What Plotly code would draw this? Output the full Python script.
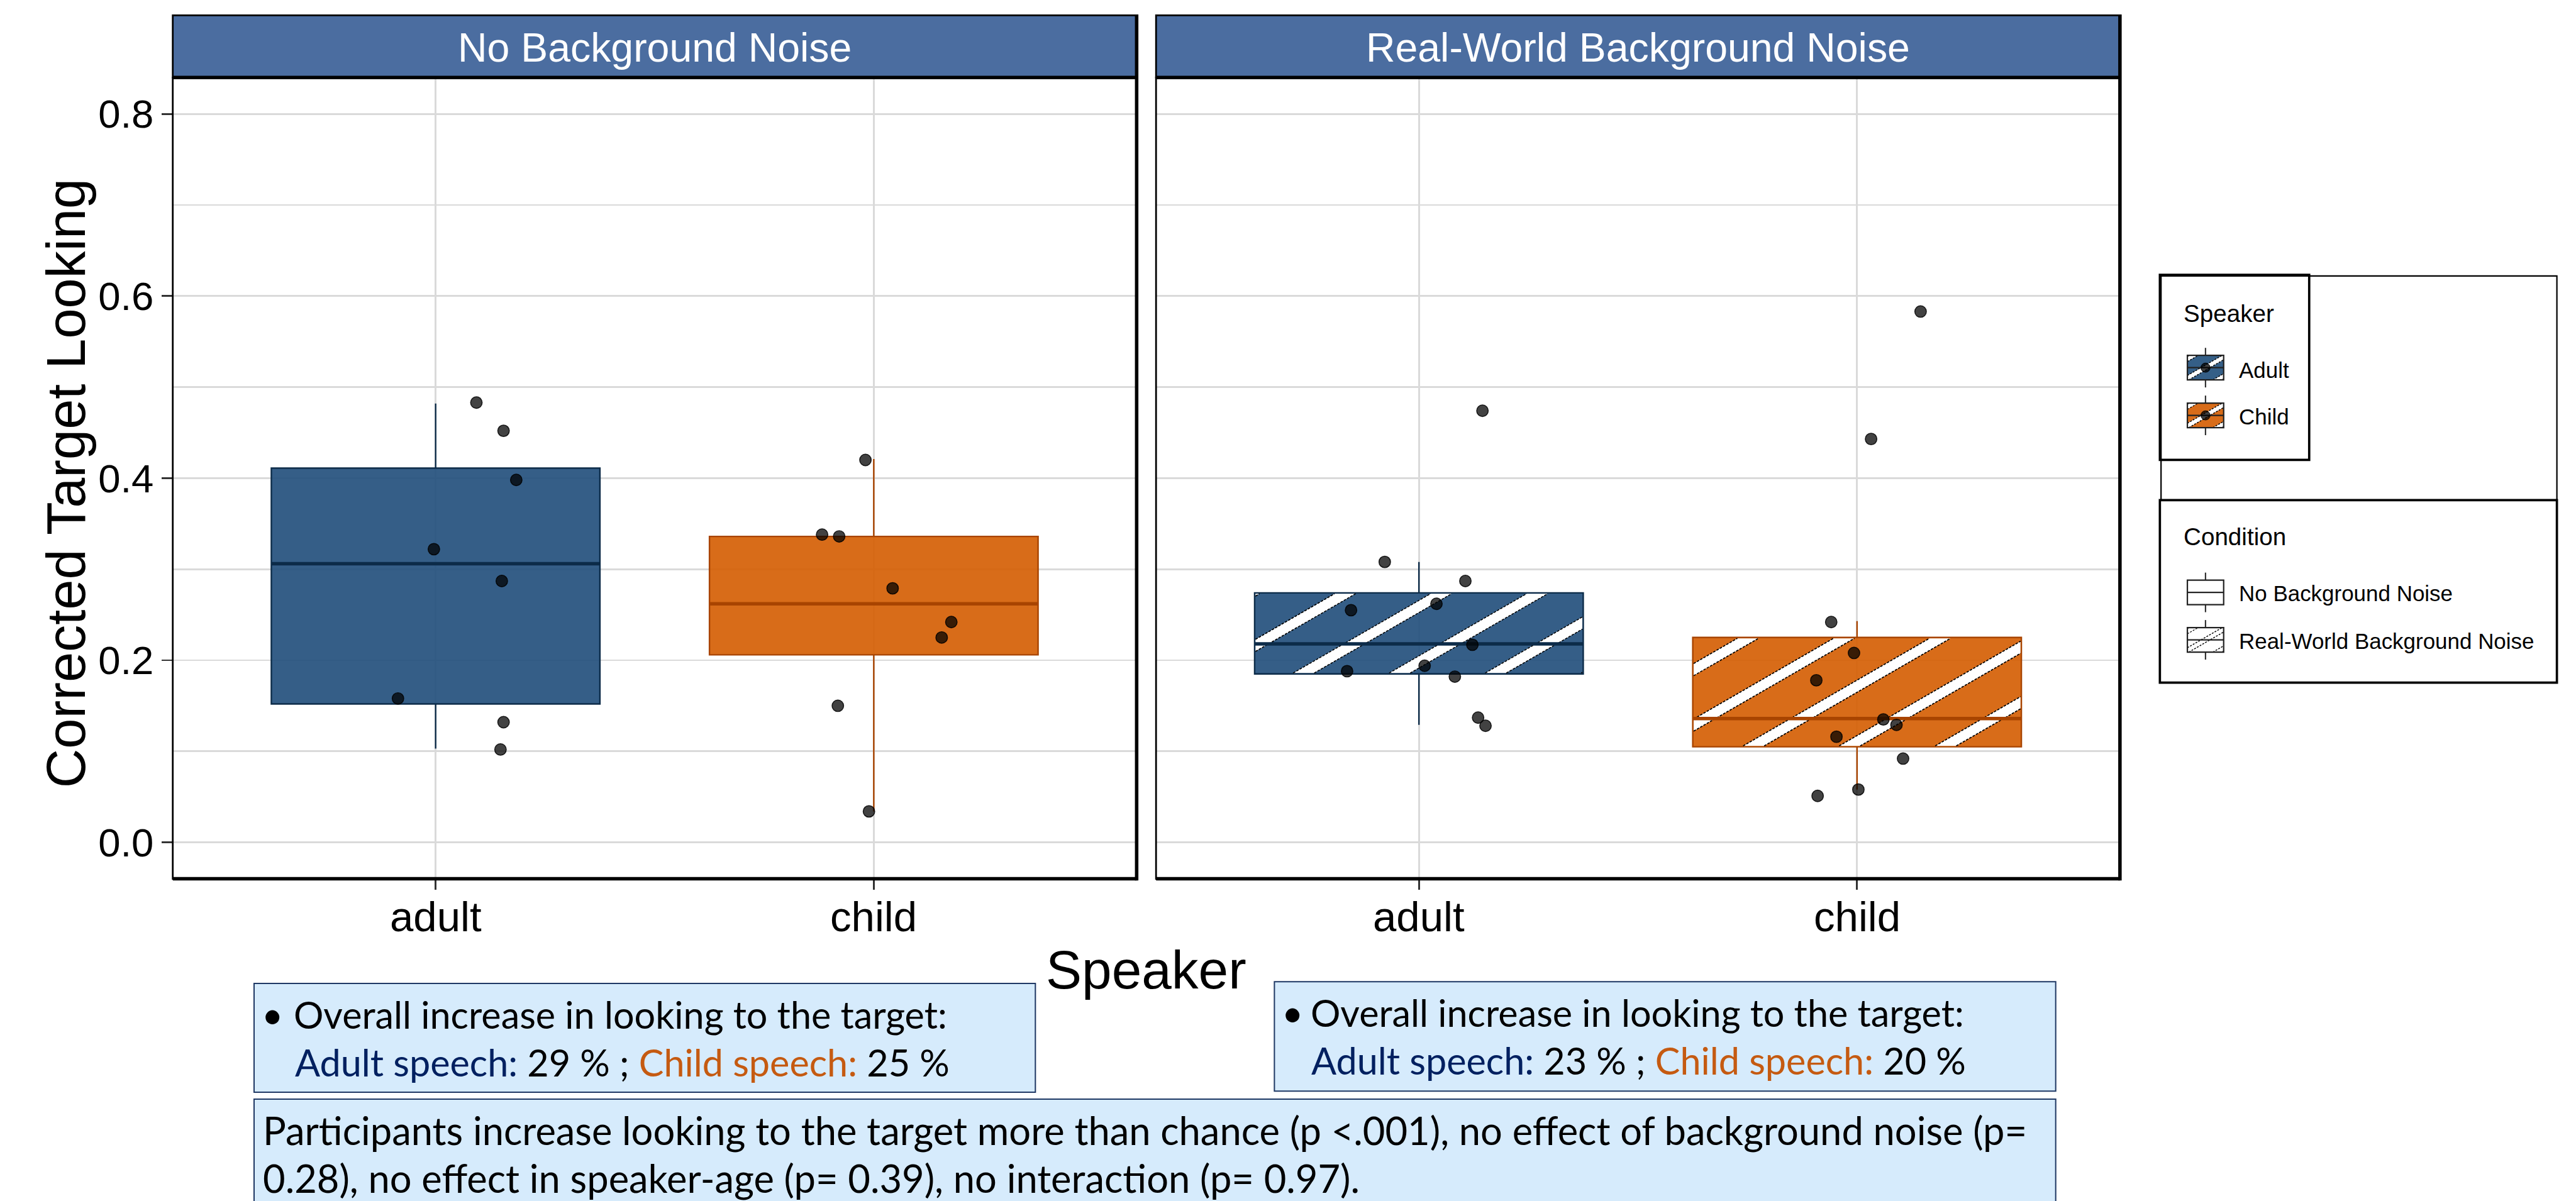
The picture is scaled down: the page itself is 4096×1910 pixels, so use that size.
import numpy as np
import plotly.graph_objects as go

# ---------------- data ----------------
speakers = ["adult", "child"]
conditions = ["No Background Noise", "Real-World Background Noise"]
y_tick_vals = [0.0, 0.2, 0.4, 0.6, 0.8]
y_tick_text = ["0.0", "0.2", "0.4", "0.6", "0.8"]

# box statistics: [lower whisker, Q1, median, Q3, upper whisker]
box_nb_adult = [0.103, 0.152, 0.306, 0.411, 0.482]
box_nb_child = [0.034, 0.206, 0.262, 0.336, 0.421]
box_rw_adult = [0.129, 0.185, 0.218, 0.274, 0.308]
box_rw_child = [0.058, 0.105, 0.136, 0.225, 0.243]

# participant values and their horizontal jitter (category units)
pts_nb_adult = [0.483, 0.452, 0.398, 0.322, 0.287, 0.158, 0.132, 0.102]
jit_nb_adult = [0.093, 0.155, 0.184, -0.004, 0.151, -0.086, 0.155, 0.148]
pts_nb_child = [0.420, 0.338, 0.336, 0.279, 0.242, 0.225, 0.150, 0.034]
jit_nb_child = [-0.019, -0.118, -0.079, 0.043, 0.177, 0.155, -0.082, -0.011]
pts_rw_adult = [0.474, 0.308, 0.287, 0.262, 0.255, 0.217, 0.194, 0.188, 0.182, 0.137, 0.128]
jit_rw_adult = [0.145, -0.078, 0.106, 0.040, -0.155, 0.122, 0.013, -0.164, 0.082, 0.135, 0.152]
pts_rw_child = [0.583, 0.443, 0.242, 0.208, 0.178, 0.135, 0.129, 0.116, 0.092, 0.058, 0.051]
jit_rw_child = [0.145, 0.032, -0.059, -0.007, -0.093, 0.060, 0.090, -0.047, 0.105, 0.003, -0.090]

legend_speaker_labels = ["Adult", "Child"]
legend_condition_labels = ["No Background Noise", "Real-World Background Noise"]

increase_nb = ["29 %", "25 %"]
increase_rw = ["23 %", "20 %"]
stats_line1 = "Participants increase looking to the target more than chance (p <.001), no effect of background noise (p="
stats_line2 = "0.28), no effect in speaker-age (p= 0.39), no interaction (p= 0.97)."

# ---------------- geometry / style ----------------
REF_W, REF_H = 4451.0, 2076.0
SC = 0.92


def PX(x):
    return x / REF_W


def PY(y):
    return 1.0 - y / REF_H


def s(v):
    return v * SC


FONT = "Liberation Sans, Arial, sans-serif"
BOXFONT = "Lato, sans-serif"
GRID = "#DADADA"
STRIP_BLUE = "#4B6DA0"

PANEL_L = [298.5, 1997.5]
PANEL_R = [1964.0, 3663.0]
PANEL_T, PANEL_B = 134.0, 1519.0
STRIP_T = 26.5
XR = [0.4, 2.6]
YR = [-0.04, 0.84]
UX = (PANEL_R[0] - PANEL_L[0]) / (XR[1] - XR[0])
UY = (PANEL_B - PANEL_T) / (YR[1] - YR[0])
BOX_W = 0.75

FILLS = {"adult": "rgba(31,77,122,0.9)", "child": "rgba(212,92,0,0.9)"}
LINES = {"adult": "#0C2B48", "child": "#A84400"}
SOLID = {"adult": "#355F87", "child": "#D86C19"}

STRIPE_ANGLE = 30.0
TAN = np.tan(np.radians(STRIPE_ANGLE))
STRIPE_PERIOD = 95.8
STRIPE_WIDTH = 21.0
STRIPE_PHASE = 2645.0


def to_ref(panel, xd, yd):
    return PANEL_L[panel] + (xd - XR[0]) * UX, PANEL_B - (yd - YR[0]) * UY


def to_data(panel, Xr, Yr):
    return XR[0] + (Xr - PANEL_L[panel]) / UX, YR[0] + (PANEL_B - Yr) / UY


def clip_half(poly, a, b, c):
    out = []
    n = len(poly)
    for i in range(n):
        P, Q = poly[i], poly[(i + 1) % n]
        fp = a * P[0] + b * P[1] + c
        fq = a * Q[0] + b * Q[1] + c
        if fp >= 0:
            out.append(P)
        if (fp >= 0) != (fq >= 0):
            t = fp / (fp - fq)
            out.append((P[0] + t * (Q[0] - P[0]), P[1] + t * (Q[1] - P[1])))
    return out


def stripe_geometry(x0, y0, x1, y1, phase, period, width):
    """x0<x1, y0<y1 in reference pixels (y down). returns polygons and edge segments"""
    rect = [(x0, y0), (x1, y0), (x1, y1), (x0, y1)]
    cmin = y0 + x0 * TAN
    cmax = y1 + x1 * TAN
    k0 = int(np.floor((cmin - phase) / period)) - 1
    k1 = int(np.ceil((cmax - phase) / period)) + 1
    polys, edges = [], []
    for k in range(k0, k1 + 1):
        c1 = phase + k * period
        c2 = c1 + width
        poly = clip_half(rect, TAN, 1.0, -c1)
        poly = clip_half(poly, -TAN, -1.0, c2) if poly else []
        if len(poly) >= 3:
            polys.append(poly)
        for cv in (c1, c2):
            xs = max(x0, (cv - y1) / TAN)
            xe = min(x1, (cv - y0) / TAN)
            if xs < xe:
                edges.append(((xs, cv - xs * TAN), (xe, cv - xe * TAN)))
    return polys, edges


fig = go.Figure()
shapes = []
annotations = []

panel_boxes = [[box_nb_adult, box_nb_child], [box_rw_adult, box_rw_child]]
panel_pts = [[pts_nb_adult, pts_nb_child], [pts_rw_adult, pts_rw_child]]
panel_jit = [[jit_nb_adult, jit_nb_child], [jit_rw_adult, jit_rw_child]]

for p in range(2):
    xa = "x" if p == 0 else "x2"
    ya = "y" if p == 0 else "y2"
    for i, sp in enumerate(speakers):
        pos = i + 1
        lo, q1, med, q3, hi = panel_boxes[p][i]
        fig.add_trace(go.Box(
            x=[pos], q1=[q1], median=[med], q3=[q3], lowerfence=[lo], upperfence=[hi],
            width=BOX_W, whiskerwidth=0, boxpoints=False,
            fillcolor=FILLS[sp], line=dict(color=LINES[sp], width=s(2.6)),
            xaxis=xa, yaxis=ya, showlegend=False, hoverinfo="skip"))
        if p == 1:
            X0, Yb = to_ref(p, pos - BOX_W / 2, q1)
            X1, Yt = to_ref(p, pos + BOX_W / 2, q3)
            polys, edges = stripe_geometry(X0 + 1.5, Yt + 1.5, X1 - 1.5, Yb - 1.5,
                                           STRIPE_PHASE, STRIPE_PERIOD, STRIPE_WIDTH)
            fx, fy = [], []
            for poly in polys:
                for (a, b) in poly + [poly[0]]:
                    dx, dy = to_data(p, a, b)
                    fx.append(dx)
                    fy.append(dy)
                fx.append(None)
                fy.append(None)
            fig.add_trace(go.Scatter(x=fx, y=fy, mode="lines", fill="toself",
                                     fillcolor="white", line=dict(width=0, color="white"),
                                     xaxis=xa, yaxis=ya, showlegend=False, hoverinfo="skip"))
            ex, ey = [], []
            for (A, B) in edges:
                for (a, b) in (A, B):
                    dx, dy = to_data(p, a, b)
                    ex.append(dx)
                    ey.append(dy)
                ex.append(None)
                ey.append(None)
            fig.add_trace(go.Scatter(x=ex, y=ey, mode="lines",
                                     line=dict(width=s(1.8), color="black", dash="4px,2px"),
                                     xaxis=xa, yaxis=ya, showlegend=False, hoverinfo="skip"))
        # thick median line
        fig.add_trace(go.Scatter(x=[pos - BOX_W / 2, pos + BOX_W / 2], y=[med, med], mode="lines",
                                 line=dict(color=LINES[sp], width=s(6)),
                                 xaxis=xa, yaxis=ya, showlegend=False, hoverinfo="skip"))
    for i, sp in enumerate(speakers):
        pos = i + 1
        xs = [pos + j for j in panel_jit[p][i]]
        fig.add_trace(go.Scatter(x=xs, y=panel_pts[p][i], mode="markers",
                                 marker=dict(size=s(20), color="rgba(0,0,0,0.74)",
                                             line=dict(color="rgba(0,0,0,0.85)", width=s(1.6))),
                                 xaxis=xa, yaxis=ya, showlegend=False, hoverinfo="skip"))


def add_rect(x0, y0, x1, y1, fill="rgba(0,0,0,0)", color="black", width=1.0, layer="above"):
    shapes.append(dict(type="rect", xref="paper", yref="paper", x0=PX(x0), x1=PX(x1),
                       y0=PY(y1), y1=PY(y0), fillcolor=fill,
                       line=dict(color=color, width=width), layer=layer))


def add_line(x0, y0, x1, y1, color="black", width=1.0, dash=None):
    ln = dict(color=color, width=width)
    if dash:
        ln["dash"] = dash
    shapes.append(dict(type="line", xref="paper", yref="paper", x0=PX(x0), x1=PX(x1),
                       y0=PY(y0), y1=PY(y1), line=ln, layer="above"))


def add_path(poly, fill, color="rgba(0,0,0,0)", width=0):
    d = "M " + " L ".join(f"{PX(a):.6f},{PY(b):.6f}" for a, b in poly) + " Z"
    shapes.append(dict(type="path", xref="paper", yref="paper", path=d, fillcolor=fill,
                       line=dict(color=color, width=width), layer="above"))


def add_text(x, y, text, size, color="black", family=FONT, xanchor="left", angle=0, xref="paper"):
    annotations.append(dict(xref=xref, yref="paper", x=(PX(x) if xref == "paper" else x), y=PY(y),
                            text=text, showarrow=False, xanchor=xanchor, yanchor="middle",
                            textangle=angle, font=dict(family=family, size=size, color=color)))


# panel frames and strips
for p in range(2):
    L, R = PANEL_L[p], PANEL_R[p]
    add_rect(L, STRIP_T, R, PANEL_T, fill=STRIP_BLUE, color="black", width=s(3))
    add_rect(L, PANEL_T, R, PANEL_B, color="black", width=s(3))
    add_line(L, PANEL_T, R, PANEL_T, width=s(6))
    add_line(L, PANEL_B, R, PANEL_B, width=s(6))
    add_line(R, STRIP_T - 1.5, R, PANEL_B + 3, width=s(6))
    add_text((L + R) / 2, 83, conditions[p], s(70), color="white", xanchor="center")
    # category labels on the x axis (placed through the axis' own scale)
    for i, sp in enumerate(speakers):
        add_text(i + 1, 1584, sp, s(73), xanchor="center", xref=("x" if p == 0 else "x2"))

# axis titles
add_text(114, 835, "Corrected Target Looking", s(94), xanchor="center", angle=-90)
add_text(1980, 1677, "Speaker", s(93), xanchor="center")

# ---------------- legend ----------------
add_rect(3734, 477, 4418, 864.5, color="black", width=s(2.4))
add_rect(3732, 475, 3990, 795, color="black", width=s(4))
add_rect(3732, 864.5, 4418, 1180, color="black", width=s(4))
add_text(3771, 541.5, "Speaker", s(42))
add_text(3771, 927.6, "Condition", s(42))

KEY_X0, KEY_X1 = 3779.5, 3842.2
KEY_H = 42.4


def legend_key(cy, fill, striped, dot):
    cx = (KEY_X0 + KEY_X1) / 2
    y0, y1 = cy - KEY_H / 2, cy + KEY_H / 2
    add_line(cx, y0 - 13, cx, y0, color="#333333", width=s(2.4))
    add_line(cx, y1, cx, y1 + 13, color="#333333", width=s(2.4))
    add_rect(KEY_X0, y0, KEY_X1, y1, fill=fill, color="rgba(0,0,0,0)", width=0)
    if striped:
        cc = cy + cx * TAN
        polys, edges = stripe_geometry(KEY_X0, y0, KEY_X1, y1, cc - 4.5 - 33, 33.0, 9.0)
        for poly in polys:
            add_path(poly, "white")
        for (A, B) in edges:
            add_line(A[0], A[1], B[0], B[1], color="black", width=s(1.5), dash="3px,2px")
    add_line(KEY_X0, cy, KEY_X1, cy, color="#222222", width=s(2.4))
    add_rect(KEY_X0, y0, KEY_X1, y1, color="#222222", width=s(2.4))
    if dot:
        shapes.append(dict(type="circle", xref="paper", yref="paper",
                           x0=PX(cx - 8), x1=PX(cx + 8), y0=PY(cy + 8), y1=PY(cy - 8),
                           fillcolor="rgba(0,0,0,0.75)", line=dict(color="black", width=1),
                           layer="above"))


legend_key(635.5, SOLID["adult"], True, True)
add_text(3866, 640, legend_speaker_labels[0], s(38))
legend_key(718, SOLID["child"], True, True)
add_text(3866, 720, legend_speaker_labels[1], s(38))
legend_key(1024, "white", False, False)
add_text(3866, 1026, legend_condition_labels[0], s(38))
legend_key(1106, "white", True, False)
add_text(3866, 1108, legend_condition_labels[1], s(38))

# ---------------- summary boxes ----------------
BOX_FILL = "#D6EBFC"
BOX_EDGE = "#1F3864"
add_rect(439, 1700, 1789, 1888, fill=BOX_FILL, color=BOX_EDGE, width=s(2.2))
add_rect(2202, 1697, 3552, 1886, fill=BOX_FILL, color=BOX_EDGE, width=s(2.2))
add_rect(439, 1900, 3552, 2140, fill=BOX_FILL, color=BOX_EDGE, width=s(2.2))

TS_SMALL = s(64.5)
TS_WIDE = s(66.8)


def summary(xb, xt, y1, y2, vals):
    add_text(xb, y1, "•", TS_SMALL, family=BOXFONT)
    add_text(xt, y1, "Overall increase in looking to the target:", TS_SMALL, family=BOXFONT)
    add_text(xt + 2, y2,
             '<span style="color:#002060">Adult speech:</span> ' + vals[0] +
             ' ; <span style="color:#C55A11">Child speech:</span> ' + vals[1],
             TS_SMALL, family=BOXFONT)


summary(450, 505, 1753, 1836, increase_nb)
summary(2212, 2262, 1750, 1833, increase_rw)
add_text(452, 1953, stats_line1, TS_WIDE, family=BOXFONT)
add_text(452, 2036, stats_line2, TS_WIDE, family=BOXFONT)

# ---------------- axes ----------------
minor_vals = [round((a + b) / 2, 3) for a, b in zip(y_tick_vals[:-1], y_tick_vals[1:])]
xcommon = dict(range=XR, tickvals=[1, 2], ticktext=speakers, showticklabels=False,
               ticks="outside", ticklen=s(18), tickwidth=s(3), tickcolor="#333333",
               showgrid=True, gridcolor=GRID, gridwidth=s(3), zeroline=False, showline=False,
               fixedrange=True)
ycommon = dict(range=YR, tickvals=y_tick_vals, ticktext=y_tick_text,
               showgrid=True, gridcolor=GRID, gridwidth=s(3), zeroline=False, showline=False,
               minor=dict(tickmode="array", tickvals=minor_vals, showgrid=True,
                          gridcolor=GRID, gridwidth=s(3), ticks=""),
               domain=[PY(PANEL_B), PY(PANEL_T)], fixedrange=True)

fig.update_layout(
    width=4096, height=1910, margin=dict(l=0, r=0, t=0, b=0, pad=0),
    paper_bgcolor="white", plot_bgcolor="white", showlegend=False, boxmode="overlay",
    xaxis=dict(domain=[PX(PANEL_L[0]), PX(PANEL_R[0])], anchor="y", **xcommon),
    xaxis2=dict(domain=[PX(PANEL_L[1]), PX(PANEL_R[1])], anchor="y2", **xcommon),
    yaxis=dict(anchor="x", ticks="outside", ticklen=s(18), tickwidth=s(3), tickcolor="#333333",
               tickfont=dict(family=FONT, size=s(69), color="black"), **ycommon),
    yaxis2=dict(anchor="x2", matches="y", showticklabels=False, ticks="", **ycommon),
    shapes=shapes, annotations=annotations,
)

fig.write_html("out.html", config={"displayModeBar": False, "staticPlot": True},
               post_script="document.body.style.margin='0px';document.body.style.overflow='hidden';")
